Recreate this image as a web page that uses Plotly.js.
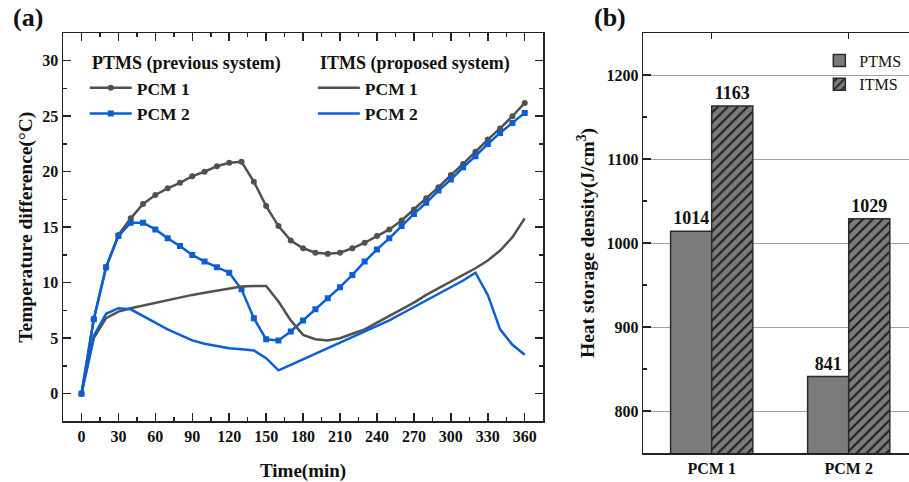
<!DOCTYPE html>
<html>
<head>
<meta charset="utf-8">
<script src="https://cdn.plot.ly/plotly-3.0.1.min.js"></script>
<style>html,body{margin:0;padding:0;background:#fff;}#chart{width:909px;height:482px;}</style>
</head>
<body>
<div id="chart"></div>
<script>
// ---- Panel (a) data ----
const timeMin = [0,10,20,30,40,50,60,70,80,90,100,110,120,130,140,150,160,170,180,190,200,210,220,230,240,250,260,270,280,290,300,310,320,330,340,350,360];
const ptmsPcm1 = [0,6.7,11.4,14.3,15.8,17.1,17.9,18.5,19.0,19.6,20.0,20.5,20.8,20.9,19.1,16.9,15.1,13.8,13.1,12.7,12.6,12.7,13.1,13.6,14.2,14.8,15.6,16.6,17.6,18.6,19.7,20.7,21.8,22.9,23.9,25.0,26.2];
const ptmsPcm2 = [0,6.7,11.4,14.2,15.4,15.4,14.8,14.0,13.3,12.5,11.9,11.4,10.9,9.4,6.8,4.9,4.8,5.6,6.6,7.6,8.6,9.6,10.7,11.9,13.0,14.0,15.1,16.2,17.2,18.3,19.3,20.4,21.4,22.5,23.5,24.4,25.3];
const itmsPcm1 = [0,5.0,6.8,7.4,7.7,7.95,8.15,8.4,8.65,8.9,9.1,9.3,9.5,9.65,9.7,9.7,8.3,6.6,5.3,4.9,4.8,5.0,5.4,5.8,6.4,7.0,7.6,8.2,8.9,9.5,10.1,10.7,11.3,12.0,12.9,14.1,15.8];
const itmsPcm2 = [0,5.2,7.2,7.7,7.6,7.0,6.4,5.8,5.3,4.8,4.5,4.3,4.1,4.0,3.9,3.2,2.1,2.6,3.1,3.6,4.1,4.6,5.1,5.6,6.1,6.6,7.2,7.8,8.4,9.0,9.6,10.2,10.9,8.9,5.8,4.4,3.5];
const seriesNames = ['PCM 1','PCM 2'];
const groupTitles = ['PTMS (previous system)', 'ITMS (proposed system)'];
const xTickVals = [0,30,60,90,120,150,180,210,240,270,300,330,360];

// ---- Panel (b) data ----
const pcmCategories = ['PCM 1','PCM 2'];
const ptmsDensity = [1014, 841];
const itmsDensity = [1163, 1029];

const SERIF = 'Liberation Serif, Times New Roman, serif';
const GRAY = '#515151';
const BLUE = '#0b5fd3';
const bold = (size) => ({family: SERIF, size: size, color: '#111', weight: 'bold'});

const traces = [
  {x: timeMin, y: ptmsPcm1, name: seriesNames[0], type: 'scatter', mode: 'lines+markers',
   line: {color: GRAY, width: 2.5}, marker: {symbol: 'circle', size: 6, color: GRAY},
   xaxis: 'x', yaxis: 'y', legend: 'legend'},
  {x: timeMin, y: ptmsPcm2, name: seriesNames[1], type: 'scatter', mode: 'lines+markers',
   line: {color: BLUE, width: 2.5}, marker: {symbol: 'square', size: 6, color: BLUE},
   xaxis: 'x', yaxis: 'y', legend: 'legend'},
  {x: timeMin, y: itmsPcm1, name: seriesNames[0], type: 'scatter', mode: 'lines',
   line: {color: GRAY, width: 2.5}, xaxis: 'x', yaxis: 'y', legend: 'legend2'},
  {x: timeMin, y: itmsPcm2, name: seriesNames[1], type: 'scatter', mode: 'lines',
   line: {color: BLUE, width: 2.5}, xaxis: 'x', yaxis: 'y', legend: 'legend2'},
  {x: pcmCategories, y: ptmsDensity, name: 'PTMS', type: 'bar', xaxis: 'x2', yaxis: 'y2',
   marker: {color: '#7b7b7b', line: {color: '#2a2a2a', width: 1.5}},
   text: ptmsDensity.map(String), textposition: 'outside', cliponaxis: false,
   textfont: bold(18), legend: 'legend3'},
  {x: pcmCategories, y: itmsDensity, name: 'ITMS', type: 'bar', xaxis: 'x2', yaxis: 'y2',
   marker: {color: '#7b7b7b', line: {color: '#2a2a2a', width: 1.5},
            pattern: {shape: '/', bgcolor: '#7b7b7b', fgcolor: '#1e1e1e', size: 7, solidity: 0.3}},
   text: itmsDensity.map(String), textposition: 'outside', cliponaxis: false,
   textfont: bold(18), legend: 'legend3'}
];

const axisCommon = {
  showline: true, linecolor: '#222', linewidth: 1.5, ticks: 'inside', tickcolor: '#222',
  tickwidth: 1.5, ticklen: 8, showgrid: false, zeroline: false, tickfont: bold(16)
};

const layout = {
  width: 909, height: 482,
  margin: {l: 63.3, r: 0, t: 33.3, b: 28.7},
  paper_bgcolor: '#fff', plot_bgcolor: 'rgba(0,0,0,0)',
  barmode: 'group', bargap: 0.4, bargroupgap: 0,
  font: {family: SERIF, color: '#111'},
  xaxis: Object.assign({}, axisCommon, {
    domain: [0, 0.5676], anchor: 'y', range: [-15, 375], tickvals: xTickVals, mirror: 'allticks',
    minor: {ticks: 'inside', dtick: 15, tick0: 0, ticklen: 4, tickwidth: 1.5, tickcolor: '#222'},
    title: {text: 'Time(min)', font: bold(19), standoff: 19}
  }),
  yaxis: Object.assign({}, axisCommon, {
    domain: [0.0752, 1], anchor: 'x', range: [-2.5, 32.5], dtick: 5, tick0: 0, mirror: 'allticks',
    minor: {ticks: 'inside', dtick: 2.5, tick0: 0, ticklen: 4, tickwidth: 1.5, tickcolor: '#222'},
    title: {text: 'Temperature difference(°C)', font: bold(19.5), standoff: 4}
  }),
  xaxis2: Object.assign({}, axisCommon, {
    domain: [0.6858, 1], anchor: 'y2', type: 'category', range: [-0.5, 1.44], mirror: 'allticks',
    ticklen: 6
  }),
  yaxis2: Object.assign({}, axisCommon, {
    domain: [0, 1], anchor: 'x2', range: [750, 1250], dtick: 100, tick0: 800, mirror: false,
    showgrid: true, gridcolor: '#a0a0a0', gridwidth: 1,
    minor: {ticks: 'inside', dtick: 50, tick0: 800, ticklen: 4, tickwidth: 1.5, tickcolor: '#222', showgrid: false},
    title: {text: 'Heat storage density(J/cm<sup>3</sup>)', font: bold(19.5), standoff: 6}
  }),
  legend: {
    x: 0.0257, y: 0.912, xanchor: 'left', yanchor: 'top', bgcolor: 'rgba(0,0,0,0)',
    font: bold(17.5), tracegroupgap: 0, itemwidth: 42
  },
  legend2: {
    x: 0.2953, y: 0.912, xanchor: 'left', yanchor: 'top', bgcolor: 'rgba(0,0,0,0)',
    font: bold(17.5), tracegroupgap: 0, itemwidth: 42
  },
  legend3: {
    x: 0.894, y: 0.975, xanchor: 'left', yanchor: 'top', bgcolor: 'rgba(0,0,0,0)',
    font: {family: SERIF, size: 16, color: '#111'}, tracegroupgap: 0, itemwidth: 30
  },
  annotations: [
    {text: '(a)', xref: 'paper', yref: 'paper', x: -0.062, y: 1.037, xanchor: 'left', yanchor: 'middle',
     showarrow: false, font: bold(26)},
    {text: '(b)', xref: 'paper', yref: 'paper', x: 0.625, y: 1.037, xanchor: 'left', yanchor: 'middle',
     showarrow: false, font: bold(26)},
    {text: groupTitles[0], xref: 'paper', yref: 'paper', x: 0.0316, y: 0.927, xanchor: 'left', yanchor: 'middle',
     showarrow: false, font: bold(18)},
    {text: groupTitles[1], xref: 'paper', yref: 'paper', x: 0.301, y: 0.927, xanchor: 'left', yanchor: 'middle',
     showarrow: false, font: bold(18)}
  ]
};

Plotly.newPlot('chart', traces, layout, {displayModeBar: false, staticPlot: true});
</script>
</body>
</html>
